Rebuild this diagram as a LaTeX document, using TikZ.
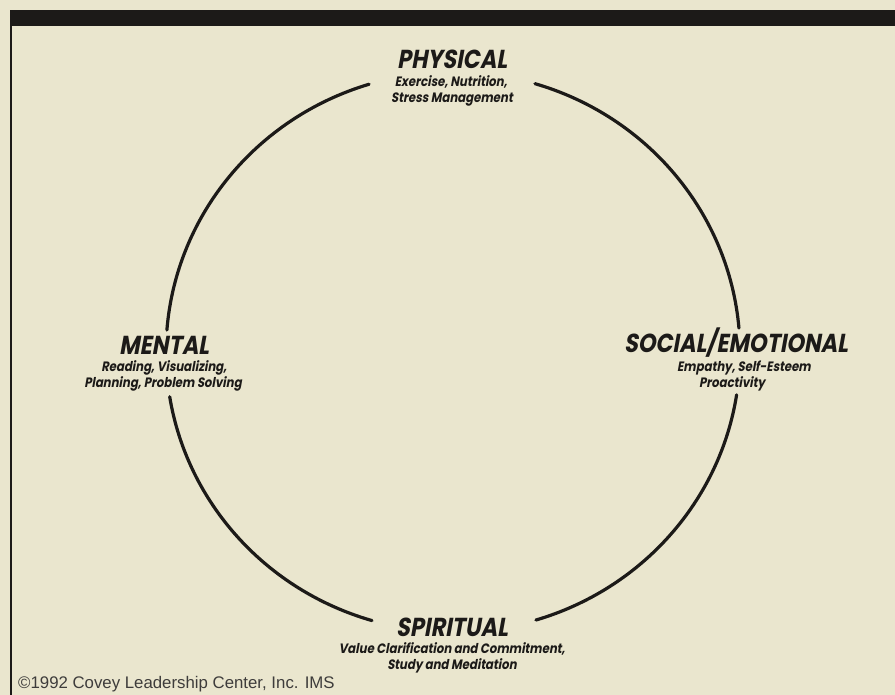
\documentclass[tikz,border=0pt]{standalone}
\usepackage{fontspec}
\newfontfamily\headfont{Poppins}[FakeSlant=0.18, FakeStretch=0.86]
\newfontfamily\copyfont{Liberation Sans}
\definecolor{paper}{RGB}{234,230,206}
\definecolor{ink}{RGB}{28,26,24}
\begin{document}
\begin{tikzpicture}[x=1pt,y=1pt,
  ring/.style={draw=ink, line width=3.2pt, line cap=round},
  headtitle/.style={anchor=base, inner sep=0pt, text=ink, font=\headfont\bfseries\fontsize{26}{26}\selectfont},
  headsub/.style={anchor=base, inner sep=0pt, text=ink, font=\headfont\bfseries\fontsize{13.6}{13.6}\selectfont},
  credit/.style={anchor=base west, inner sep=0pt, text=ink!85, font=\copyfont\fontsize{16.8}{16.8}\selectfont}]
\useasboundingbox (0,0) rectangle (895,695);
\fill[paper] (0,0) rectangle (895,695);
% frame: top bar and left rule
\fill[ink] (10,669) rectangle (895,685);
\draw[ink, line width=2pt] (11,669) -- (11,0);
% broken circle
\coordinate (c) at (453,343);
\draw[ring] (c) ++(4.9:287 and 280) arc[start angle=4.9, end angle=73.4, x radius=287, y radius=280];
\draw[ring] (c) ++(107:287 and 280) arc[start angle=107, end angle=175.5, x radius=287, y radius=280];
\draw[ring] (c) ++(189.2:287 and 280) arc[start angle=189.2, end angle=253.6, x radius=287, y radius=280];
\draw[ring] (c) ++(286.8:287 and 280) arc[start angle=286.8, end angle=351.2, x radius=287, y radius=280];
% labels
\node[headtitle] (phys) at (452,626) {PHYSICAL};
\node[headsub] (physa) at (451,608) {Exercise, Nutrition,};
\node[headsub] (physb) at (452,592) {Stress Management};
\node[headtitle] (ment) at (164,340) {MENTAL};
\node[headsub] (menta) at (164,323) {Reading, Visualizing,};
\node[headsub] (mentb) at (163,307) {Planning, Problem Solving};
\node[headtitle] (soc) at (736,342) {SOCIAL/EMOTIONAL};
\node[headsub] (soca) at (744,323) {Empathy, Self-Esteem};
\node[headsub] (socb) at (732,307) {Proactivity};
\node[headtitle] (spir) at (452,58) {SPIRITUAL};
\node[headsub] (spira) at (452,41) {Value Clarification and Commitment,};
\node[headsub] (spirb) at (452,25) {Study and Meditation};
\node[credit] (copy) at (18,6) {©1992 Covey Leadership Center, Inc. IMS};
\end{tikzpicture}
\end{document}
